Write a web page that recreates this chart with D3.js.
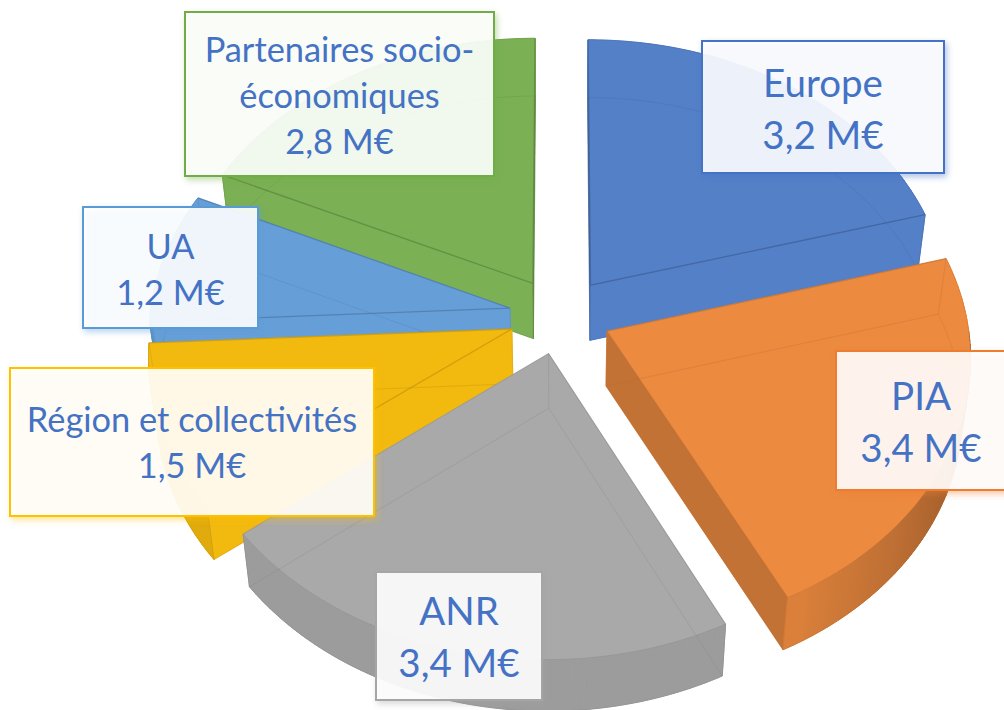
<!DOCTYPE html>
<html>
<head>
<meta charset="utf-8">
<script src="https://d3js.org/d3.v7.min.js"></script>
<style>
  body { margin: 0; background: #fff; overflow: hidden; }
  .label text { font-family: Lato, "Open Sans", sans-serif; fill: #4472c4; text-anchor: middle; }
</style>
</head>
<body>
<div id="chart"></div>
<script>
// data (M€)
var categories = ["Europe", "PIA", "ANR", "Région et collectivités", "UA", "Partenaires socio-économiques"];
var values = [3.2, 3.4, 3.4, 1.5, 1.2, 2.8];
var labelLines = [["Europe"], ["PIA"], ["ANR"], ["Région et collectivités"], ["UA"], ["Partenaires socio-", "économiques"]];
var colors = ["#5480c8", "#ec8a40", "#a9a9a9", "#f2b90f", "#669fd8", "#7bb055"];
var borders = ["#4472c4", "#ed7d31", "#a5a5a5", "#ffc000", "#5b9bd5", "#70ad47"];
var edgeOpacity = [0.85, 0.5, 0.3, 0.6, 0.8, 0.85];

// label boxes: x0, y0, x1, y1, font size, line step, first baseline
var boxes = [
  [702, 41, 944, 173, 38.5, 52, 97],
  [836, 351, 1012, 490, 38.5, 52, 410],
  [376, 572, 542, 700, 38.5, 52, 625],
  [10, 368, 374, 516, 34.4, 46, 432],
  [83, 207, 258, 328, 34.4, 46, 259],
  [185, 12, 494, 176, 34.4, 46, 62]
];

var width = 1004, height = 710;

// camera fitted on the picture
var cx = 560, cy = 315.5, A = 360, B = 272, persp = 0.088, explode = 0.1417, depth = 55;

function project(X, Y, z) {
  var s = 1 / (1 + persp * Y);
  var px = A * X * s, py = -B * Y * s;
  if (z) return [cx + px * 0.98, cy + py * 0.99 + depth];
  return [cx + px, cy + py];
}

var svg = d3.select("#chart").append("svg")
  .attr("width", width)
  .attr("height", height);

var pie = d3.pie().sort(null).value(function(d) { return d; });
var arcs = pie(values);
var line = d3.line();

function slicePoint(d, r, a, z) {
  var mid = (d.startAngle + d.endAngle) / 2;
  return project(explode * Math.sin(mid) + r * Math.sin(a),
                 explode * Math.cos(mid) + r * Math.cos(a), z);
}

function arcPoints(d, z) {
  var n = 90, pts = [];
  for (var i = 0; i <= n; i++) {
    pts.push(slicePoint(d, 1, d.startAngle + (d.endAngle - d.startAngle) * i / n, z));
  }
  return pts;
}

// darker when the face turns sideways
function radialShade(normal) {
  return Math.max(0, Math.abs(Math.sin(normal)) - 0.65) * 2.2;
}
function arcShade(a) {
  var deg = a * 180 / Math.PI;
  if (deg < 90 || deg > 270) return 0;
  if (deg < 150) return 0.25 + (150 - deg) / 40 * 0.8;
  return 0.22;
}

// painter's order: back slices first
var order = [0, 5, 4, 3, 2, 1];

order.forEach(function(i) {
  var d = arcs[i], c = colors[i];
  var g = svg.append("g").attr("class", "slice");
  var edge = d3.color(c).darker(0.7);

  var apexTop = slicePoint(d, 0, 0, 0), apexBot = slicePoint(d, 0, 0, 1);
  var top = arcPoints(d, 0), bot = arcPoints(d, 1);
  var last = top.length - 1;

  function stroke(pts, opacity, w) {
    g.append("path")
      .attr("d", line(pts))
      .attr("fill", "none")
      .attr("stroke", edge)
      .attr("stroke-opacity", opacity)
      .attr("stroke-width", w || 1);
  }

  // bottom face and the two radial walls
  g.append("path")
    .attr("d", line([apexBot].concat(bot)) + "Z")
    .attr("fill", c);
  [[0, d.startAngle - Math.PI / 2], [last, d.endAngle + Math.PI / 2]].forEach(function(w) {
    var col = d3.color(c).darker(radialShade(w[1]));
    g.append("path")
      .attr("d", line([apexTop, top[w[0]], bot[w[0]], apexBot]) + "Z")
      .attr("fill", col)
      .attr("stroke", col)
      .attr("stroke-width", 0.5);
  });

  // outer wall, strip by strip so the shading follows the curve
  d3.range(last).forEach(function(k) {
    var a = d.startAngle + (d.endAngle - d.startAngle) * (k + 0.5) / last;
    var col = d3.color(c).darker(arcShade(a));
    g.append("path")
      .attr("d", line([top[k], top[k + 1], bot[k + 1], bot[k]]) + "Z")
      .attr("fill", col)
      .attr("stroke", col)
      .attr("stroke-width", 1);
  });

  // top face
  g.append("path")
    .attr("d", line([apexTop].concat(top)) + "Z")
    .attr("fill", c);
  stroke([top[0], apexTop, top[last]], edgeOpacity[i], 1.3);
  stroke(top, 0.3, 1);

  // edges seen through the translucent solid
  stroke([bot[0], apexBot, bot[last]], 0.3);
  stroke(bot, 0.25);
  stroke([apexTop, apexBot], 0.3);
  stroke([top[0], bot[0]], 0.3);
  stroke([top[last], bot[last]], 0.3);
});

// labels
var label = svg.selectAll("g.label")
  .data(d3.range(categories.length))
  .enter()
  .append("g")
  .attr("class", "label");

label.append("rect")
  .attr("x", function(i) { return boxes[i][0]; })
  .attr("y", function(i) { return boxes[i][1]; })
  .attr("width", function(i) { return boxes[i][2] - boxes[i][0]; })
  .attr("height", function(i) { return boxes[i][3] - boxes[i][1]; })
  .attr("fill", "#fff")
  .attr("fill-opacity", 0.9)
  .attr("stroke", function(i) { return borders[i]; })
  .attr("stroke-width", 2)
  .style("filter", function(i) {
    return "drop-shadow(2px 3px 3px " + d3.color(borders[i]).copy({opacity: 0.45}) + ")";
  });

label.each(function(i) {
  var b = boxes[i];
  var lines = labelLines[i].concat([values[i].toFixed(1).replace(".", ",") + " M€"]);
  d3.select(this).selectAll("text")
    .data(lines)
    .enter()
    .append("text")
    .attr("x", (b[0] + Math.min(b[2], 1006)) / 2)
    .attr("y", function(t, k) { return b[6] + k * b[5]; })
    .style("font-size", b[4] + "px")
    .text(function(t) { return t; });
});
</script>
</body>
</html>
